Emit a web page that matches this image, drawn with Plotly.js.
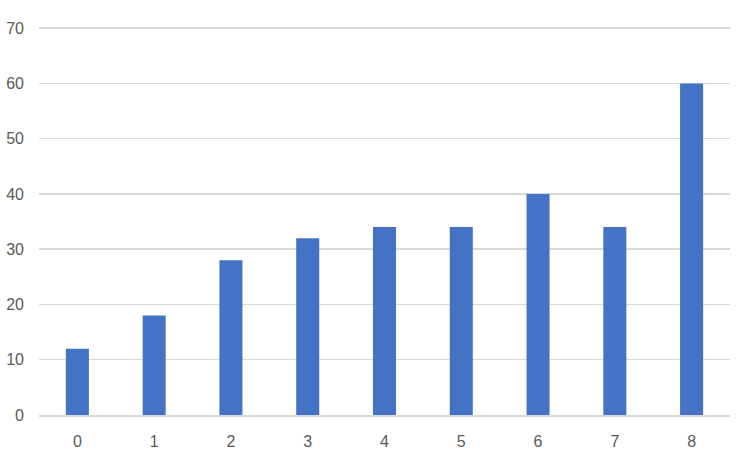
<!DOCTYPE html>
<html>
<head>
<meta charset="utf-8">
<script src="https://cdn.plot.ly/plotly-3.0.1.min.js"></script>
<style>html,body{margin:0;padding:0;background:#fff;}#chart{width:750px;height:469px;}</style>
</head>
<body>
<div id="chart"></div>
<script>
const categories = ["0","1","2","3","4","5","6","7","8"];
const values = [12, 18, 28, 32, 34, 34, 40, 34, 60];
const yTicks = [0, 10, 20, 30, 40, 50, 60, 70];

const trace = {
  type: 'bar',
  x: categories,
  y: values,
  marker: {color: '#4472C4'},
  width: 0.3,
  hoverinfo: 'x+y'
};
const layout = {
  width: 750, height: 469,
  margin: {l: 39, r: 20, t: 27, b: 54},
  paper_bgcolor: '#ffffff', plot_bgcolor: '#ffffff',
  font: {family: 'Liberation Sans Narrow, Arial Narrow, sans-serif', size: 16, color: '#595959'},
  showlegend: false,
  xaxis: {
    type: 'category',
    showgrid: false,
    showline: true, linecolor: '#d9d9d9', linewidth: 1.5,
    ticks: '', ticklabelstandoff: 11,
    tickfont: {size: 16, color: '#595959'}
  },
  yaxis: {
    range: [0, 70.2],
    tickvals: yTicks,
    showgrid: true, gridcolor: '#d9d9d9', gridwidth: 1.5,
    zeroline: false, showline: false,
    ticks: '', ticklabelstandoff: 14,
    tickfont: {size: 16, color: '#595959'}
  }
};
Plotly.newPlot('chart', [trace], layout, {displayModeBar: false, staticPlot: true});
</script>
</body>
</html>
